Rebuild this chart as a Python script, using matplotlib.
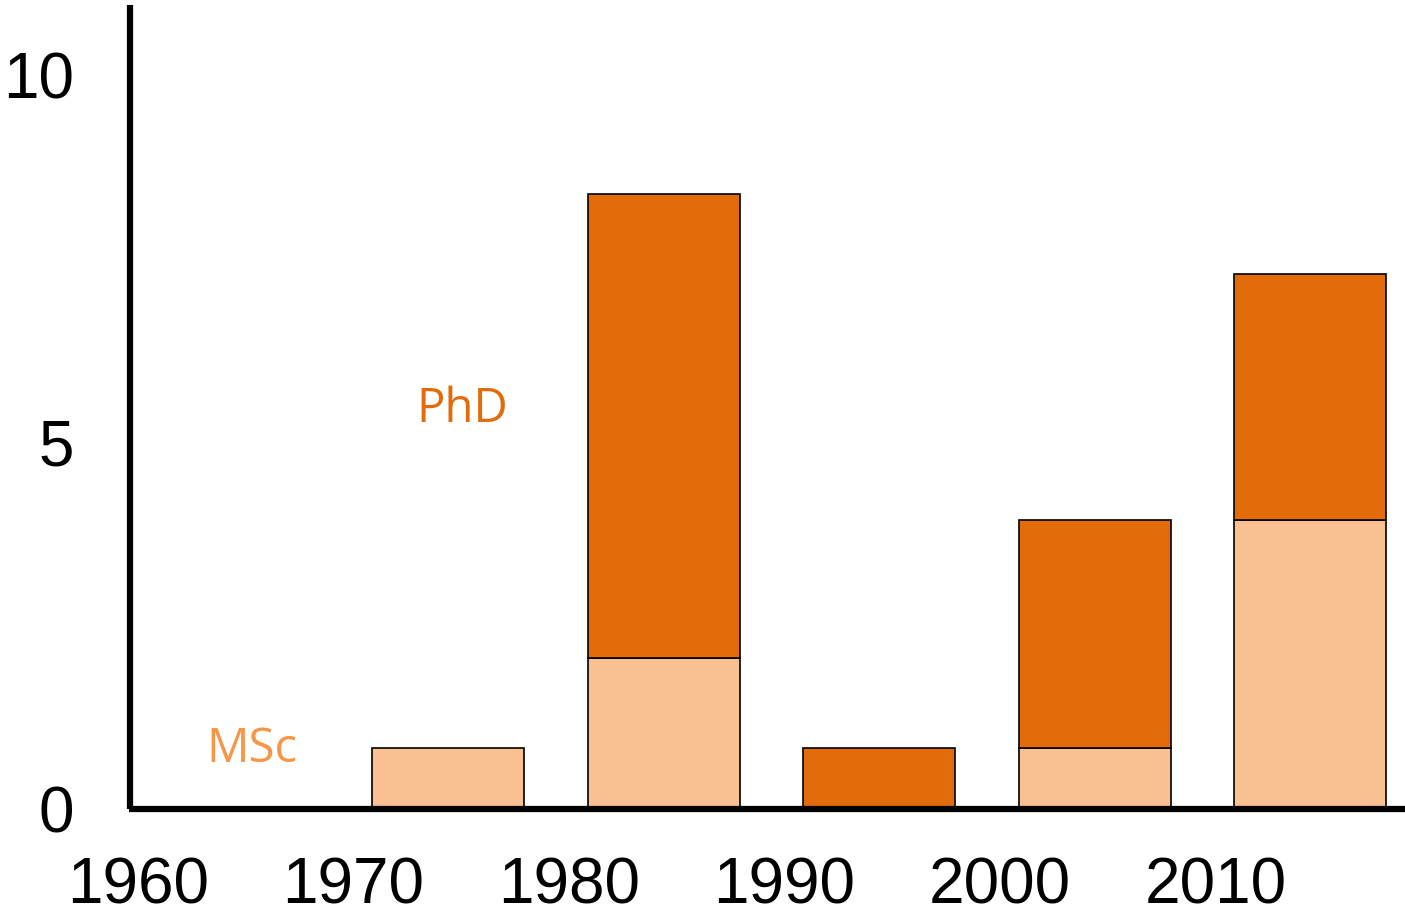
import matplotlib
matplotlib.use("Agg")
import matplotlib.pyplot as plt
import numpy as np

decades = [1960, 1970, 1980, 1990, 2000, 2010]
msc = [0, 0.83, 2.05, 0, 0.83, 3.93]
phd = [0, 0, 6.32, 0.83, 3.11, 3.35]
yticks = [0, 5, 10]

c_phd = "#E36C0A"
c_msc = "#F9C192"
c_msc_text = "#F79646"

fig = plt.figure(figsize=(14.05, 9.15), dpi=100)
W, H = 1405, 915
ax = fig.add_axes([129.5 / W, (H - 809) / H, (W - 129.5) / W, (809 - 5) / H])

x = np.array(decades) + 4.4
width = 7.05
msc_a = np.array(msc)
phd_a = np.array(phd)
mask_m = msc_a > 0
mask_p = phd_a > 0
ax.bar(x[mask_m], msc_a[mask_m], width=width, color=c_msc, edgecolor="black", linewidth=1.2, zorder=1)
ax.bar(x[mask_p], phd_a[mask_p], width=width, bottom=msc_a[mask_p], color=c_phd,
       edgecolor="black", linewidth=1.2, zorder=1)

ax.set_xlim(1959.6, 2018.8)
ax.set_ylim(0, 10.95)
ax.set_xticks(decades)
ax.set_xticklabels([str(d) for d in decades])
ax.set_yticks(yticks)
ax.set_yticklabels([str(t) for t in yticks])
for s in ["top", "right"]:
    ax.spines[s].set_visible(False)
for s in ["left", "bottom"]:
    ax.spines[s].set_linewidth(4.5)
    ax.spines[s].set_capstyle("butt")
ax.tick_params(axis="both", length=0, labelsize=46)
ax.tick_params(axis="y", pad=40)
ax.tick_params(axis="x", pad=34)
for lab in ax.get_xticklabels() + ax.get_yticklabels():
    lab.set_fontfamily("Liberation Sans")

ax.text(1975.04, 5.45, "PhD", color=c_phd, fontsize=34, fontfamily="Open Sans",
        ha="center", va="center")
ax.text(1965.3, 0.81, "MSc", color=c_msc_text, fontsize=34, fontfamily="Open Sans",
        ha="center", va="center")

fig.savefig("out.png", dpi=100)
